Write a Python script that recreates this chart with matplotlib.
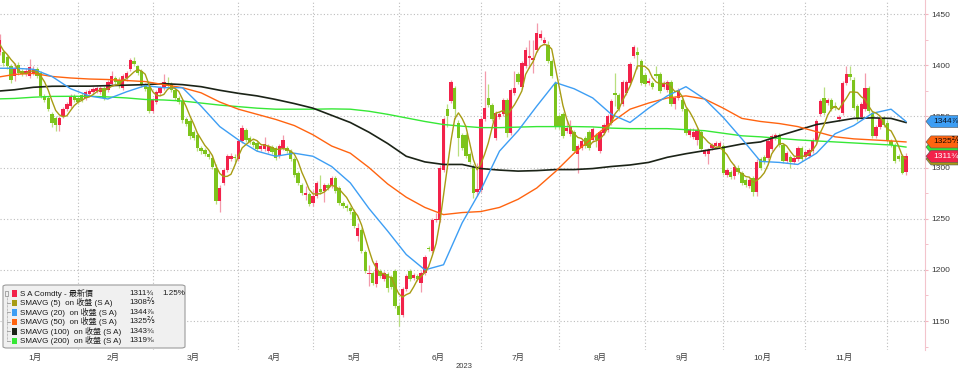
import matplotlib.pyplot as plt
import numpy as np
import pandas as pd
from matplotlib.patches import Polygon, FancyBboxPatch, Rectangle
from matplotlib.lines import Line2D
from matplotlib.ticker import MultipleLocator
from matplotlib.transforms import blended_transform_factory

plt.rcParams['font.family'] = ['Liberation Sans', 'Noto Sans CJK TC', 'DejaVu Sans']

# ===== DATA (daily sessions from 2023-01-02) =====
start_date = "2023-01-02"

open_ = [
    1405, 1413, 1413, 1408, 1399, 1389, 1400, 1394, 1391, 1389,
    1392, 1396, 1392, 1370, 1368, 1352, 1348, 1342, 1350, 1357,
    1360, 1370, 1368, 1371, 1368, 1372, 1374, 1375, 1374, 1378,
    1376, 1382, 1387, 1386, 1378, 1387, 1396, 1404, 1399, 1394,
    1381, 1379, 1355, 1364, 1373, 1378, 1383, 1382, 1376, 1368,
    1365, 1347, 1345, 1335, 1332, 1319, 1317, 1313, 1309, 1300,
    1267, 1285, 1298, 1308, 1310, 1308, 1326, 1337, 1329, 1325,
    1324, 1318, 1318, 1316, 1320, 1319, 1311, 1319, 1319, 1316,
    1308, 1295, 1283, 1273, 1274, 1265, 1272, 1279, 1277, 1283,
    1282, 1290, 1280, 1265, 1262, 1260, 1257, 1233, 1239, 1217,
    1196, 1197, 1186, 1199, 1191, 1196, 1193, 1199, 1165, 1156,
    1181, 1199, 1192, 1194, 1187, 1197, 1221, 1218, 1249, 1249,
    1298, 1357, 1365, 1378, 1344, 1332, 1332, 1313, 1301, 1276,
    1278, 1347, 1368, 1361, 1329, 1349, 1352, 1366, 1334, 1373,
    1391, 1379, 1399, 1407, 1405, 1415, 1427, 1422, 1420, 1404,
    1383, 1350, 1352, 1336, 1333, 1335, 1313, 1319, 1329, 1335,
    1327, 1332, 1316, 1334, 1337, 1344, 1373, 1371, 1362, 1373,
    1383, 1409, 1413, 1404, 1390, 1383, 1383, 1391, 1391, 1379,
    1376, 1384, 1362, 1368, 1366, 1357, 1332, 1330, 1327, 1335,
    1313, 1313, 1319, 1321, 1320, 1321, 1293, 1296, 1292, 1300,
    1295, 1288, 1282, 1290, 1276, 1308, 1310, 1309, 1318, 1329,
    1332, 1322, 1306, 1310, 1305, 1308, 1319, 1310, 1311, 1316,
    1326, 1352, 1368, 1363, 1366, 1360, 1347, 1353, 1383, 1391,
    1386, 1360, 1349, 1357, 1378, 1353, 1331, 1340, 1348, 1344,
    1326, 1322, 1311, 1311, 1296,
]
high = [
    1420, 1430, 1415, 1410, 1401, 1402, 1403, 1396, 1397, 1406,
    1399, 1398, 1394, 1372, 1370, 1354, 1350, 1350, 1359, 1364,
    1372, 1372, 1370, 1373, 1376, 1377, 1379, 1380, 1380, 1380,
    1386, 1394, 1389, 1388, 1391, 1394, 1407, 1408, 1400, 1396,
    1383, 1381, 1368, 1376, 1380, 1391, 1388, 1384, 1378, 1370,
    1367, 1349, 1347, 1337, 1334, 1321, 1319, 1315, 1312, 1303,
    1283, 1300, 1313, 1314, 1313, 1328, 1342, 1339, 1331, 1327,
    1326, 1323, 1330, 1323, 1322, 1321, 1323, 1332, 1321, 1318,
    1310, 1297, 1285, 1282, 1276, 1278, 1287, 1293, 1285, 1285,
    1292, 1292, 1282, 1267, 1264, 1262, 1259, 1246, 1241, 1219,
    1205, 1199, 1210, 1201, 1199, 1198, 1195, 1201, 1167, 1183,
    1196, 1201, 1197, 1196, 1199, 1215, 1223, 1251, 1256, 1302,
    1349, 1362, 1386, 1380, 1346, 1334, 1334, 1315, 1303, 1304,
    1349, 1394, 1382, 1363, 1355, 1354, 1368, 1368, 1378, 1394,
    1393, 1404, 1418, 1425, 1425, 1441, 1434, 1428, 1424, 1406,
    1385, 1352, 1354, 1346, 1346, 1337, 1323, 1328, 1331, 1337,
    1340, 1334, 1337, 1344, 1352, 1367, 1392, 1373, 1386, 1386,
    1403, 1420, 1418, 1406, 1392, 1387, 1385, 1399, 1393, 1385,
    1386, 1386, 1370, 1378, 1368, 1359, 1339, 1339, 1339, 1337,
    1318, 1319, 1324, 1326, 1326, 1323, 1300, 1298, 1303, 1302,
    1297, 1290, 1290, 1292, 1308, 1310, 1312, 1328, 1333, 1334,
    1334, 1324, 1316, 1312, 1311, 1321, 1321, 1317, 1319, 1329,
    1347, 1367, 1379, 1368, 1368, 1364, 1351, 1385, 1399, 1399,
    1388, 1362, 1364, 1392, 1380, 1355, 1342, 1350, 1350, 1346,
    1328, 1324, 1313, 1313, 1314,
]
low = [
    1402, 1410, 1399, 1396, 1383, 1385, 1390, 1389, 1389, 1387,
    1390, 1387, 1368, 1364, 1355, 1340, 1336, 1336, 1348, 1355,
    1358, 1364, 1362, 1364, 1366, 1370, 1372, 1373, 1372, 1366,
    1374, 1380, 1382, 1378, 1376, 1385, 1394, 1399, 1390, 1379,
    1375, 1353, 1353, 1362, 1371, 1376, 1378, 1374, 1366, 1362,
    1344, 1341, 1328, 1327, 1316, 1313, 1311, 1308, 1299, 1264,
    1257, 1283, 1296, 1306, 1305, 1306, 1324, 1325, 1323, 1320,
    1316, 1316, 1316, 1314, 1313, 1307, 1309, 1317, 1314, 1306,
    1291, 1283, 1273, 1268, 1262, 1262, 1270, 1274, 1266, 1278,
    1280, 1275, 1263, 1260, 1258, 1255, 1241, 1228, 1216, 1197,
    1184, 1185, 1183, 1192, 1189, 1178, 1181, 1163, 1145, 1154,
    1179, 1189, 1190, 1189, 1178, 1195, 1218, 1216, 1247, 1247,
    1296, 1340, 1363, 1347, 1311, 1317, 1309, 1303, 1270, 1272,
    1276, 1345, 1359, 1345, 1327, 1347, 1350, 1330, 1332, 1371,
    1382, 1377, 1397, 1397, 1392, 1413, 1425, 1420, 1402, 1387,
    1338, 1338, 1329, 1334, 1331, 1314, 1295, 1317, 1319, 1317,
    1325, 1320, 1314, 1332, 1335, 1342, 1360, 1355, 1360, 1371,
    1381, 1407, 1396, 1381, 1380, 1381, 1377, 1387, 1373, 1377,
    1374, 1360, 1357, 1366, 1355, 1332, 1330, 1328, 1322, 1316,
    1311, 1303, 1317, 1319, 1318, 1293, 1291, 1289, 1289, 1294,
    1283, 1281, 1280, 1272, 1272, 1298, 1303, 1307, 1316, 1327,
    1320, 1304, 1304, 1300, 1303, 1306, 1306, 1308, 1309, 1314,
    1324, 1350, 1351, 1361, 1355, 1356, 1345, 1351, 1381, 1386,
    1356, 1345, 1347, 1355, 1353, 1329, 1329, 1338, 1340, 1325,
    1320, 1304, 1306, 1294, 1293,
]
close = [
    1416, 1425, 1402, 1399, 1386, 1396, 1392, 1391, 1394, 1398,
    1396, 1389, 1370, 1366, 1357, 1344, 1342, 1348, 1357, 1362,
    1370, 1366, 1364, 1366, 1374, 1375, 1377, 1378, 1378, 1368,
    1384, 1389, 1384, 1380, 1389, 1392, 1405, 1401, 1392, 1381,
    1377, 1355, 1366, 1374, 1378, 1384, 1380, 1376, 1368, 1364,
    1346, 1343, 1331, 1329, 1319, 1316, 1313, 1310, 1301, 1267,
    1280, 1298, 1311, 1311, 1309, 1326, 1339, 1327, 1325, 1322,
    1318, 1321, 1323, 1321, 1315, 1309, 1321, 1327, 1316, 1308,
    1293, 1285, 1275, 1275, 1264, 1272, 1285, 1276, 1283, 1280,
    1290, 1277, 1265, 1262, 1260, 1258, 1243, 1241, 1218, 1199,
    1197, 1187, 1207, 1194, 1197, 1182, 1183, 1165, 1156, 1181,
    1194, 1191, 1195, 1191, 1197, 1213, 1220, 1249, 1250, 1300,
    1347, 1350, 1384, 1357, 1329, 1319, 1311, 1305, 1275, 1279,
    1347, 1358, 1361, 1347, 1353, 1352, 1366, 1334, 1376, 1378,
    1384, 1402, 1415, 1409, 1407, 1431, 1430, 1425, 1404, 1389,
    1340, 1340, 1331, 1339, 1340, 1316, 1321, 1326, 1321, 1319,
    1338, 1327, 1335, 1342, 1350, 1365, 1371, 1357, 1384, 1384,
    1401, 1418, 1410, 1383, 1382, 1385, 1379, 1389, 1375, 1383,
    1384, 1362, 1368, 1376, 1357, 1334, 1337, 1335, 1337, 1318,
    1316, 1317, 1322, 1324, 1324, 1295, 1298, 1291, 1301, 1296,
    1285, 1283, 1288, 1276, 1305, 1300, 1305, 1326, 1331, 1332,
    1322, 1306, 1314, 1305, 1309, 1319, 1308, 1315, 1317, 1327,
    1345, 1365, 1353, 1366, 1357, 1358, 1349, 1383, 1391, 1388,
    1358, 1347, 1362, 1378, 1355, 1331, 1340, 1348, 1342, 1327,
    1322, 1306, 1308, 1295, 1311,
]

# moving averages, one value every 5 sessions + last session
ma20 = [1397, 1397, 1396, 1389, 1377, 1370, 1367, 1374, 1380, 1378,
        1378, 1360, 1340, 1327, 1316, 1311, 1314, 1311, 1301, 1285,
        1260, 1238, 1215, 1200, 1205, 1246, 1278, 1316, 1336, 1360,
        1383, 1377, 1368, 1352, 1344, 1358, 1370, 1379, 1367, 1349,
        1328, 1306, 1305, 1303, 1314, 1333, 1341, 1353, 1357, 1345]
ma50 = [1388, 1391, 1392, 1389, 1387.5, 1386.5, 1386, 1385, 1384, 1381,
        1378, 1373, 1364, 1357, 1352, 1347, 1341, 1332, 1321, 1314,
        1300, 1284, 1271, 1261, 1254, 1256, 1257, 1261, 1269, 1280,
        1296, 1314, 1329, 1344, 1357, 1363, 1368, 1370, 1367, 1358,
        1348, 1345, 1343, 1340, 1335, 1330, 1328, 1327, 1326, 1325]
ma100 = [1374.5, 1376, 1378.4, 1379.4, 1379.5, 1379.5, 1380, 1380.5, 1381, 1382,
         1381, 1379, 1375.5, 1372.5, 1370, 1366.5, 1362.5, 1358, 1351, 1344,
         1334.5, 1323.5, 1311, 1305.5, 1303, 1303, 1299, 1297.5, 1296.5, 1297,
         1298, 1298, 1299, 1301, 1302.5, 1305, 1310, 1313.5, 1316.5, 1319.5,
         1323, 1325, 1331, 1336.5, 1342, 1345, 1348, 1348.5, 1348, 1344]
ma200 = [1367, 1367.5, 1368.7, 1369.5, 1369.6, 1369.6, 1369, 1368, 1366.5, 1366,
         1365, 1363, 1361, 1359.5, 1358, 1357, 1357, 1357, 1357.3, 1357,
         1355, 1352, 1348.5, 1345, 1342, 1340.4, 1339, 1339, 1339.5, 1340,
         1340, 1340, 1339.7, 1338.5, 1338, 1338, 1338, 1337, 1336, 1333.5,
         1331, 1330, 1328.5, 1327, 1326, 1325, 1324, 1323, 1322, 1320]

legend_names = ["S A Comdty - 最新價", "SMAVG (5)  on 收盤 (S A)", "SMAVG (20)  on 收盤 (S A)",
                "SMAVG (50)  on 收盤 (S A)", "SMAVG (100)  on 收盤 (S A)", "SMAVG (200)  on 收盤 (S A)"]
legend_values = ["1311¾", "1308⅖", "1344⅞", "1325⅖", "1343¾", "1319⅝"]
last_change = "1.25%"

# ===== STYLE =====
RED, RED_W = "#f2224a", "#f39aab"
GRN, GRN_W = "#7dc41c", "#b8df7e"
C_MA5, C_MA20, C_MA50, C_MA100, C_MA200 = "#a89c14", "#3d9ef4", "#ff6410", "#1b2317", "#36e836"
GRID = "#bdbdbd"
W, H = 958, 371

o, h, l, c = map(np.array, (open_, high, low, close))
n = len(c)
idx = np.arange(n)
dates = pd.bdate_range(start_date, periods=n)
ma_idx = np.r_[np.arange(0, n - 4, 5), n - 1]
ma5 = pd.Series(c).rolling(5, min_periods=1).mean().values

fig = plt.figure(figsize=(W / 100, H / 100), dpi=100)
ax = fig.add_axes([0, 21 / H, 925 / W, 350 / H])

# ===== CANDLES =====
up = c >= o
ax.vlines(idx, l, h, colors=np.where(up, RED_W, GRN_W), lw=0.9, zorder=2)
ax.bar(idx, np.where(np.abs(c - o) < 0.8, 0.8, c - o), bottom=o, width=0.9,
       color=np.where(up, RED, GRN), linewidth=0, zorder=3)

# ===== MOVING AVERAGES =====
ax.plot(ma_idx, ma200, color=C_MA200, lw=1.0, zorder=4)
ax.plot(ma_idx, ma100, color=C_MA100, lw=1.2, zorder=4)
ax.plot(ma_idx, ma50, color=C_MA50, lw=1.0, zorder=4)
ax.plot(ma_idx, ma20, color=C_MA20, lw=1.0, zorder=4)
ax.plot(idx, ma5, color=C_MA5, lw=1.0, zorder=5)

# ===== AXES =====
ax.set_xlim(1.07, 249.1)
ax.set_ylim(1121.7, 1463.7)
for s in ["top", "left", "bottom"]:
    ax.spines[s].set_visible(False)
ax.spines["right"].set_color("#f3c4cc")

ax.yaxis.tick_right()
ax.set_yticks(np.arange(1150, 1451, 50))
ax.yaxis.set_minor_locator(MultipleLocator(25))
ax.tick_params(axis="y", which="both", colors="#f2b6c0", labelcolor="#3a3a3a",
               length=2.5, labelsize=6, pad=2)

months = dates.month.values
starts = np.where(np.r_[True, months[1:] != months[:-1]])[0]
mids = [(starts[k] + starts[k + 1] - 1) / 2 for k in range(len(starts) - 1)]
ax.set_xticks(mids, [f"{months[s]}月" for s in starts[:-1]])
ax.set_xticks(starts[1:], minor=True)
ax.tick_params(axis="x", which="both", length=0, labelsize=6, labelcolor="#3a3a3a", pad=3)

ax.grid(axis="y", which="major", ls=(0, (1, 2)), color=GRID, lw=0.8)
ax.grid(axis="x", which="minor", ls=(0, (1, 2)), color=GRID, lw=0.8)
ax.set_axisbelow(True)

fig.text(sum(ax.get_xlim()) / 2 / 249.1 * 925 / W, 1 - 366 / H, str(dates[0].year),
         fontsize=5.5, color="#3a3a3a", ha="center", va="center")

# ===== RIGHT-SIDE VALUE TAGS =====
trans = blended_transform_factory(fig.transFigure, ax.transData)
half = 5.9
tags = [
    (ma200[-1], C_MA200, None, "#000000"),
    (ma5[-1], C_MA5, None, "#000000"),
    (ma20[-1], C_MA20, legend_values[2], "#0b1626"),
    (ma50[-1], C_MA50, legend_values[3], "#1a0a00"),
    (c[-1], RED, legend_values[0], "#ffffff"),
]
for z, (v, col, txt, tcol) in enumerate(tags):
    verts = [(926 / W, v), (931 / W, v + half), (1.0, v + half), (1.0, v - half), (931 / W, v - half)]
    fig.add_artist(Polygon(verts, closed=True, transform=trans, fc=col,
                           ec="#555555", lw=0.4, zorder=30 + z))
    if txt:
        fig.text(933 / W, v, txt, transform=trans, fontsize=6, color=tcol,
                 va="center", ha="left", zorder=40 + z)

# ===== LEGEND BOX =====
def fx(x):
    return x / W

def fy(y):
    return 1 - y / H

fig.add_artist(FancyBboxPatch((fx(3), fy(348)), 182 / W, 63 / H,
                              boxstyle="round,pad=0,rounding_size=0.004",
                              transform=fig.transFigure, fc="#f0f0f0", ec="#9c9c9c",
                              lw=0.8, zorder=20))
leg_cols = [RED, C_MA5, C_MA20, C_MA50, C_MA100, C_MA200]
row_y = [293.3 + 9.48 * k for k in range(len(legend_names))]
# tree decoration
fig.add_artist(Rectangle((fx(4.5), fy(296)), 4 / W, 5 / H, transform=fig.transFigure,
                         fc="none", ec="#8a8a8a", lw=0.5, zorder=21))
fig.add_artist(Line2D([fx(6.5), fx(6.5)], [fy(296), fy(row_y[-1])], transform=fig.transFigure,
                      color="#8a8a8a", lw=0.5, ls=(0, (1, 1)), zorder=21))
for yc in row_y[1:]:
    fig.add_artist(Line2D([fx(6.5), fx(10)], [fy(yc), fy(yc)], transform=fig.transFigure,
                          color="#8a8a8a", lw=0.5, zorder=21))
for yc, name, val, col in zip(row_y, legend_names, legend_values, leg_cols):
    fig.add_artist(Rectangle((fx(11.7), fy(yc + 3.3)), 5 / W, 6.5 / H, transform=fig.transFigure,
                             fc=col, ec="none", zorder=21))
    fig.text(fx(20.5), fy(yc), name, fontsize=5.8, color="#1a1a1a", va="center", zorder=22)
    fig.text(fx(129.5), fy(yc), val, fontsize=5.8, color="#1a1a1a", va="center", zorder=22)
fig.text(fx(162), fy(row_y[0]), last_change, fontsize=5.8, color="#1a1a1a", va="center", zorder=22)

fig.savefig("out.png", dpi=100)
